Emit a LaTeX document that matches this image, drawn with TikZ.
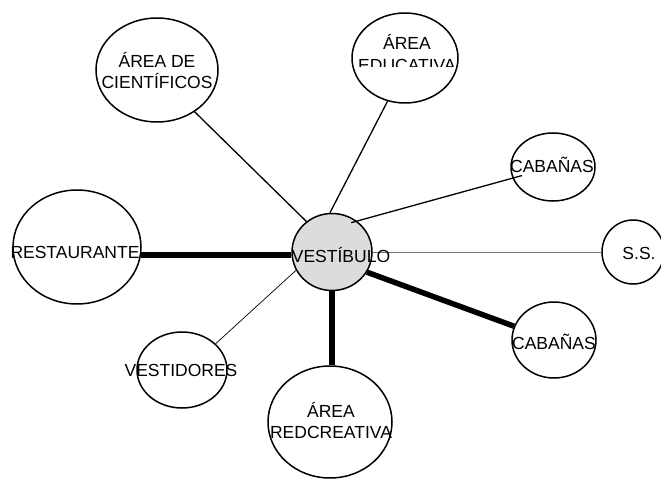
\documentclass[tikz,border=0pt]{standalone}
\usepackage{fontspec}
\setmainfont{Liberation Sans}
\usetikzlibrary{shapes.geometric}
\definecolor{vestgray}{RGB}{220,220,220}
\begin{document}
\begin{tikzpicture}[x=1pt,y=-1pt]
\tikzset{
  areanode/.style={ellipse,draw=black,line width=1.5pt,inner sep=0pt},
  areatext/.style={align=center,inner sep=0pt,font=\fontsize{17.5}{21}\selectfont},
  thinedge/.style={draw=black,line width=1.3pt},
  thickedge/.style={draw=black,line width=5.5pt},
  hairedge/.style={draw=black!55,line width=0.7pt}
}
\useasboundingbox (0,0) rectangle (661,481);
\node[areanode,minimum width=122pt,minimum height=104pt] (n_cien) at (157,70) {};
\node[areanode,minimum width=106pt,minimum height=90pt] (n_edu) at (405,58) {};
\node[areanode,minimum width=84pt,minimum height=68pt] (n_cab1) at (553,167) {};
\node[areanode,minimum width=62pt,minimum height=64pt] (n_ss) at (633,252) {};
\node[areanode,minimum width=84pt,minimum height=76pt] (n_cab2) at (554,340) {};
\node[areanode,minimum width=124pt,minimum height=112pt] (n_red) at (330,422) {};
\node[areanode,minimum width=90pt,minimum height=76pt] (n_vesd) at (182,370) {};
\node[areanode,minimum width=128pt,minimum height=114pt] (n_rest) at (77,247) {};
\node[areanode,fill=vestgray,minimum width=80pt,minimum height=77pt] (n_vest) at (332,252) {};
\draw[thinedge] (n_cien.-48) -- (n_vest.130);
\draw[thinedge] (n_edu.-112) -- (n_vest.93);
\draw[thinedge,shorten <=32pt,shorten >=-6pt] (n_cab1.center) -- (n_vest.51);
\draw[hairedge] (n_vest.east) -- (n_vest.east -| n_ss.west);
\draw[thickedge] (n_vest.-30) -- (n_cab2.161);
\draw[thickedge] (n_rest.-7) -- (n_rest.-7 -| n_vest.west);
\draw[thickedge] (n_vest.south) -- (n_vest.south |- n_red.north);
\draw[hairedge,draw=black] (n_vesd.38) -- (n_vest.207);
\node[areatext] (t_cien) at (157,70) {ÁREA DE\\CIENTÍFICOS};
\begin{scope}
\clip (350,0) rectangle (462,67);
\node[areatext] (t_edu) at (407,53) {ÁREA\\EDUCATIVA};
\end{scope}
\node[areatext] (t_cab1) at (552,165) {CABAÑAS};
\node[areatext] (t_ss) at (639,253) {S.S.};
\node[areatext] (t_cab2) at (554,342) {CABAÑAS};
\node[areatext] (t_red) at (331,420) {ÁREA\\REDCREATIVA};
\node[areatext] (t_vesd) at (181,370) {VESTIDORES};
\node[areatext] (t_rest) at (75,252) {RESTAURANTE};
\node[areatext] (t_vest) at (341,255) {VESTÍBULO};
\end{tikzpicture}
\end{document}
